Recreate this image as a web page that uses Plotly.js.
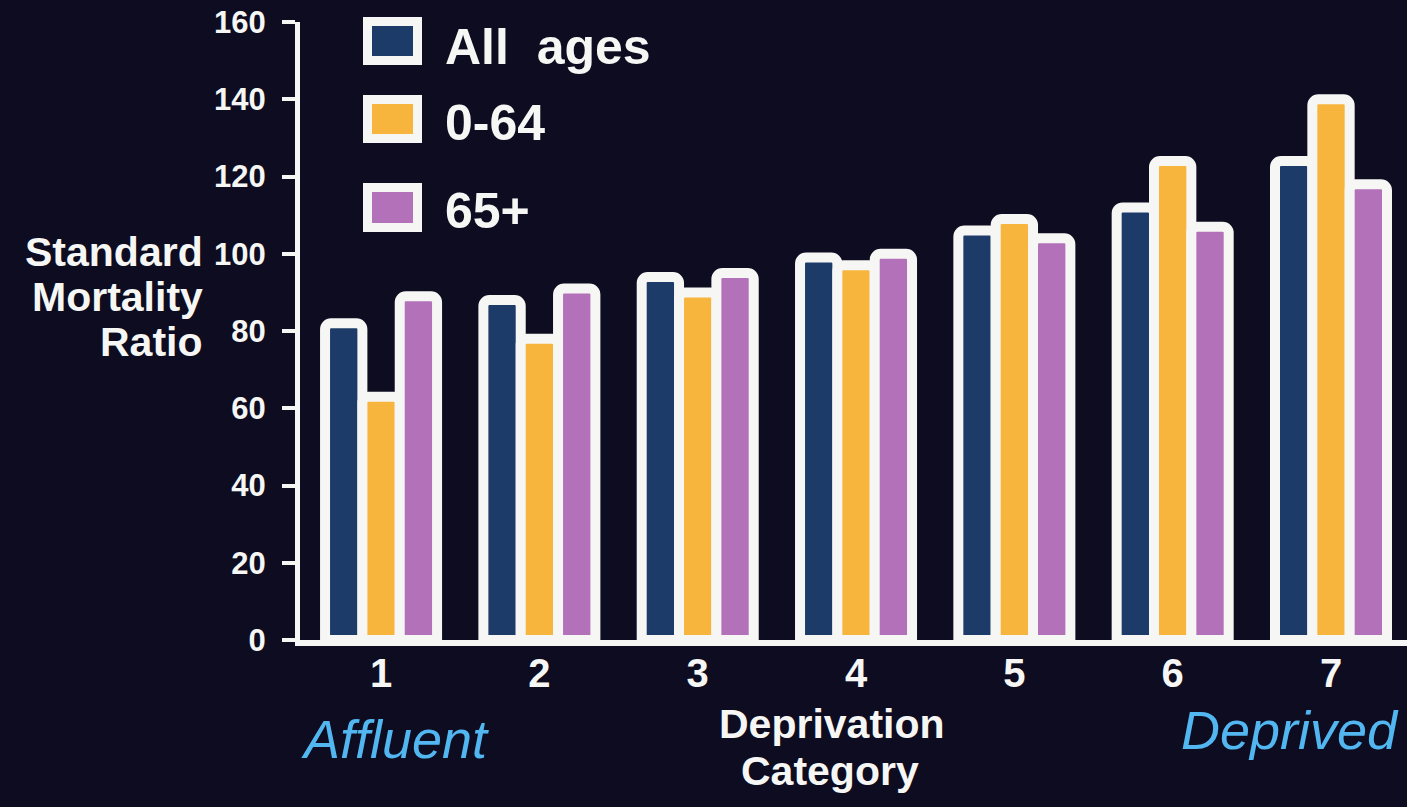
<!DOCTYPE html>
<html>
<head>
<meta charset="utf-8">
<script src="https://cdn.plot.ly/plotly-3.0.1.min.js"></script>
<style>
  html, body { margin: 0; padding: 0; background: #0d0c20; }
  #chart { width: 1407px; height: 807px; }
</style>
</head>
<body>
<div id="chart"></div>
<script>
// Standard mortality ratio by deprivation category
const categories = ['1', '2', '3', '4', '5', '6', '7'];
const seriesNames = ['All\u00a0 ages', '0-64', '65+'];
const allAges = [82, 88, 94, 99, 106, 112, 124];
const age0to64 = [63, 78, 90, 97, 109, 124, 140];
const age65plus = [89, 91, 95, 100, 104, 107, 118];
const yTicks = [0, 20, 40, 60, 80, 100, 120, 140, 160];

const colors = ['#1d3b69', '#f8b53e', '#b371b9'];
const bg = '#0d0c20';
const white = '#f6f6f4';
const blue = '#52b6f0';
const font = 'Liberation Sans, Arial, Helvetica, sans-serif';

// plot area geometry (pixels)
const W = 1407, H = 807;
const M = { l: 300, r: 0, t: 22, b: 167 };
const PW = W - M.l - M.r, PH = H - M.t - M.b;
const px = x => (x - M.l) / PW;
const py = y => (H - M.b - y) / PH;

const seriesValues = [allAges, age0to64, age65plus];
const traces = seriesValues.map((vals, i) => ({
  type: 'bar',
  name: seriesNames[i],
  x: categories,
  y: vals,
  marker: { color: colors[i], line: { color: white, width: 10 }, cornerradius: 6 },
  hoverinfo: 'x+y+name'
}));

// legend swatches and labels drawn as shapes/annotations
const swatchRows = [[21.5, 60.5, 47.5], [99.5, 138.5, 123], [187.5, 227.5, 211]];
const shapes = swatchRows.map((r, i) => ({
  type: 'rect', xref: 'paper', yref: 'paper',
  x0: px(367.5), x1: px(417.5), y0: py(r[1]), y1: py(r[0]),
  fillcolor: colors[i], line: { color: white, width: 9 }
}));

const annotations = swatchRows.map((r, i) => ({
  xref: 'paper', yref: 'paper', x: px(443), y: py(r[2]),
  xanchor: 'left', yanchor: 'middle', showarrow: false,
  text: seriesNames[i],
  font: { family: font, size: 50, color: white, weight: 'bold' }
}));

const yTitle = [['Standard', 252], ['Mortality', 297], ['Ratio', 342]];
yTitle.forEach(([t, y]) => annotations.push({
  xref: 'paper', yref: 'paper', x: px(205), y: py(y),
  xanchor: 'right', yanchor: 'middle', showarrow: false, text: t,
  font: { family: font, size: 41, color: white, weight: 'bold' }
}));

annotations.push(
  { xref: 'paper', yref: 'paper', x: px(832), y: py(723.5), xanchor: 'center', yanchor: 'middle',
    showarrow: false, text: 'Deprivation', font: { family: font, size: 41, color: white, weight: 'bold' } },
  { xref: 'paper', yref: 'paper', x: px(830), y: py(770.5), xanchor: 'center', yanchor: 'middle',
    showarrow: false, text: 'Category', font: { family: font, size: 41, color: white, weight: 'bold' } },
  { xref: 'paper', yref: 'paper', x: px(395), y: py(739), xanchor: 'center', yanchor: 'middle',
    showarrow: false, text: '<i>Affluent</i>', font: { family: font, size: 54, color: blue } },
  { xref: 'paper', yref: 'paper', x: px(1290), y: py(730), xanchor: 'center', yanchor: 'middle',
    showarrow: false, text: '<i>Deprived</i>', font: { family: font, size: 54, color: blue } }
);

const layout = {
  width: W, height: H,
  margin: M,
  paper_bgcolor: bg, plot_bgcolor: bg,
  showlegend: false,
  barmode: 'group', bargap: 0.2925, bargroupgap: 0,
  xaxis: {
    type: 'category', range: [-0.512, 6.48],
    showline: true, linecolor: white, linewidth: 6,
    ticks: '', showgrid: false, zeroline: false,
    tickfont: { family: font, size: 40, color: white, weight: 'bold' },
    ticklabelstandoff: -7
  },
  yaxis: {
    range: [0, 160], tickvals: yTicks, ticktext: yTicks.map(String),
    showline: true, linecolor: white, linewidth: 5,
    ticks: 'outside', ticklen: 13, tickwidth: 4, tickcolor: white,
    showgrid: false, zeroline: false,
    tickfont: { family: font, size: 31, color: white, weight: 'bold' },
    ticklabelstandoff: 10
  },
  shapes: shapes,
  annotations: annotations
};

Plotly.newPlot('chart', traces, layout, { staticPlot: true, displayModeBar: false });
</script>
</body>
</html>
